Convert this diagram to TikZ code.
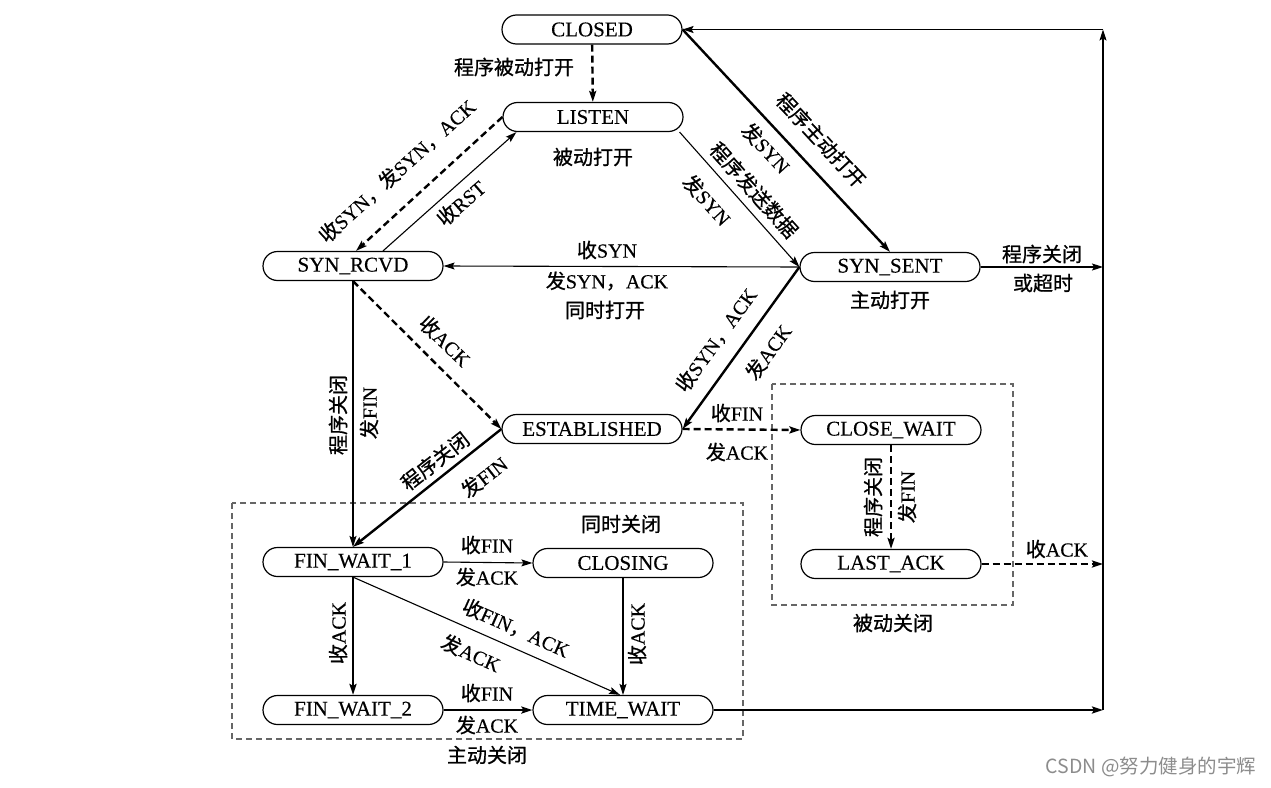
\documentclass[tikz,border=0pt]{standalone}
\usepackage{fontspec}
\setmainfont{Liberation Serif}[FakeBold=0.3]
\newfontfamily\cjk{Noto Sans CJK SC}[FakeBold=0.8]
\newfontfamily\wmfont{Noto Sans CJK SC}
\usetikzlibrary{arrows.meta}
\newcommand{\zh}[1]{{\cjk #1}}
\tikzset{
  state/.style={draw, line width=1.2pt, rounded corners=14.5pt, minimum width=180pt,
    minimum height=29pt, inner sep=0pt, font=\fontsize{21}{23}\selectfont},
  lbl/.style={inner sep=0pt, font=\fontsize{20}{22}\selectfont},
  tip/.style={-{Stealth[length=11pt,width=7pt,inset=2pt]}},
  edgethin/.style={tip, line width=1.1pt},
  edgebold/.style={tip, line width=2.4pt},
  edgedash/.style={tip, line width=2.4pt, dash pattern=on 7pt off 4pt},
  grpbox/.style={draw=black!60, line width=1.2pt, dash pattern=on 6pt off 4pt}
}
\begin{document}
\begin{tikzpicture}[x=1pt,y=-1pt]
\useasboundingbox (0,0) rectangle (1271,787);
%% groups
\draw[grpbox] (232,503) rectangle (743,739);
\draw[grpbox] (772,384) rectangle (1013,605);

%% states
\node[state] (CLOSED) at (592,29.5) {CLOSED};
\node[state] (LISTEN) at (593,117) {LISTEN};
\node[state] (SYN_RCVD) at (353,266) {SYN\_RCVD};
\node[state] (SYN_SENT) at (890,267) {SYN\_SENT};
\node[state] (ESTABLISHED) at (592,429) {ESTABLISHED};
\node[state] (CLOSE_WAIT) at (891,430) {CLOSE\_WAIT};
\node[state] (LAST_ACK) at (891,564) {LAST\_ACK};
\node[state] (FIN_WAIT_1) at (353,562) {FIN\_WAIT\_1};
\node[state] (CLOSING) at (623,563) {CLOSING};
\node[state] (FIN_WAIT_2) at (353,710) {FIN\_WAIT\_2};
\node[state] (TIME_WAIT) at (623,710) {TIME\_WAIT};
\coordinate (rbot) at (1103,710);
\coordinate (rtop) at (CLOSED.east -| rbot);

%% edges
\draw[edgedash] (CLOSED) -- (LISTEN);
\draw[edgebold] (CLOSED.east) -- (SYN_SENT.north);
\draw[edgethin] ([xshift=-4pt]LISTEN.south east) -- (SYN_SENT.west);
\draw[edgedash] (LISTEN.west) -- ([xshift=3pt]SYN_RCVD.north);
\draw[edgethin] ([xshift=30pt]SYN_RCVD.north) -- ([xshift=14pt]LISTEN.south west);
\draw[edgethin] (SYN_SENT.west) -- (SYN_RCVD.east);
\draw[edgedash] (SYN_RCVD.south) -- (ESTABLISHED.west);
\draw[edgebold] (SYN_SENT.west) -- (ESTABLISHED.east);
\draw[edgethin] (SYN_RCVD.south) -- (FIN_WAIT_1.north);
\draw[edgebold] (ESTABLISHED.west) -- (FIN_WAIT_1.north);
\draw[edgedash] (ESTABLISHED.east) -- (CLOSE_WAIT.west);
\draw[edgedash] (CLOSE_WAIT.south) -- (LAST_ACK.north);
\draw[edgedash] (LAST_ACK.east) -- (LAST_ACK.east -| rbot);
\draw[edgethin] (FIN_WAIT_1.east) -- (CLOSING.west);
\draw[edgebold] (FIN_WAIT_1.south) -- (FIN_WAIT_2.north);
\draw[edgethin] (FIN_WAIT_1.south) -- ([xshift=-3pt]TIME_WAIT.north);
\draw[edgethin] (CLOSING.south) -- (TIME_WAIT.north);
\draw[edgebold] (FIN_WAIT_2.east) -- (TIME_WAIT.west);
\draw[edgebold] (TIME_WAIT.east) -- (rbot);
\draw[edgethin] (rbot) -- (rtop);
\draw[edgethin] (rtop) -- (CLOSED.east);
\draw[edgethin] (SYN_SENT.east) -- (SYN_SENT.east -| rbot);

%% labels
\node[lbl] (l1) at (514,67) {\zh{程序被动打开}};
\node[lbl] (l2) at (593,157) {\zh{被动打开}};
\node[lbl, rotate=42] (l3) at (397,171) {\zh{收}SYN\zh{，发}SYN\zh{，}ACK};
\node[lbl, rotate=41] (l4) at (461,203) {\zh{收}RST};
\node[lbl, rotate=-47] (l5) at (821,140) {\zh{程序主动打开}};
\node[lbl, rotate=-47] (l6) at (766,148) {\zh{发}SYN};
\node[lbl, rotate=-48] (l7) at (754,190) {\zh{程序发送数据}};
\node[lbl, rotate=-48] (l8) at (707,200) {\zh{发}SYN};
\node[lbl] (l9) at (607,250) {\zh{收}SYN};
\node[lbl] (l10) at (607,281) {\zh{发}SYN\zh{，}ACK};
\node[lbl] (l11) at (605,310) {\zh{同时打开}};
\node[lbl] (l12) at (890,300) {\zh{主动打开}};
\node[lbl] (l13) at (1042,254) {\zh{程序关闭}};
\node[lbl] (l14) at (1043,283) {\zh{或超时}};
\node[lbl, rotate=-44] (l15) at (445,341) {\zh{收}ACK};
\node[lbl, rotate=90] (l16) at (338,415) {\zh{程序关闭}};
\node[lbl, rotate=90] (l17) at (369,413) {\zh{发}FIN};
\node[lbl, rotate=54] (l18) at (716,340) {\zh{收}SYN\zh{，}ACK};
\node[lbl, rotate=54] (l19) at (768,352) {\zh{发}ACK};
\node[lbl] (l20) at (737,413) {\zh{收}FIN};
\node[lbl] (l21) at (737,452) {\zh{发}ACK};
\node[lbl, rotate=90] (l22) at (873,497) {\zh{程序关闭}};
\node[lbl, rotate=90] (l23) at (907,497) {\zh{发}FIN};
\node[lbl] (l24) at (1057,549) {\zh{收}ACK};
\node[lbl, rotate=38] (l25) at (435,461) {\zh{程序关闭}};
\node[lbl, rotate=38] (l26) at (484,477) {\zh{发}FIN};
\node[lbl] (l27) at (621,524) {\zh{同时关闭}};
\node[lbl] (l28) at (487,545) {\zh{收}FIN};
\node[lbl] (l29) at (487,577) {\zh{发}ACK};
\node[lbl, rotate=90] (l30) at (338,633) {\zh{收}ACK};
\node[lbl, rotate=-24] (l31) at (516,628) {\zh{收}FIN\zh{，}ACK};
\node[lbl, rotate=-24] (l32) at (471,653) {\zh{发}ACK};
\node[lbl, rotate=90] (l33) at (637,634) {\zh{收}ACK};
\node[lbl] (l34) at (487,693) {\zh{收}FIN};
\node[lbl] (l35) at (487,725) {\zh{发}ACK};
\node[lbl] (l36) at (487,755) {\zh{主动关闭}};
\node[lbl] (l37) at (893,623) {\zh{被动关闭}};
\node[lbl, text=black!45, font=\wmfont\fontsize{19.5}{21}\selectfont] (wm) at (1151,767) {CSDN @努力健身的宇辉};
\end{tikzpicture}
\end{document}
